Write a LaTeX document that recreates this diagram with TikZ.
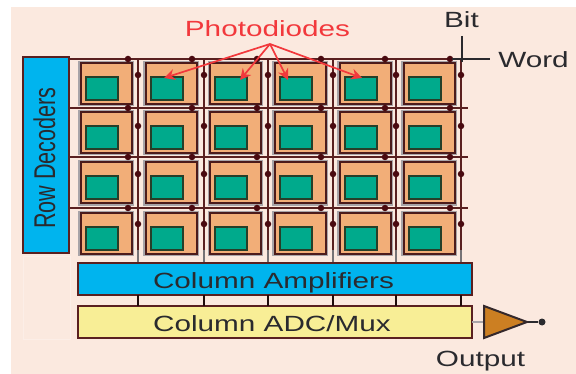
\documentclass[tikz,border=0pt]{standalone}
\usepackage{fontspec}
\setmainfont{Liberation Sans}
\usetikzlibrary{arrows.meta}
\definecolor{bgp}{HTML}{FBE9DF}
\definecolor{wire}{HTML}{5A2020}
\definecolor{dotc}{HTML}{4A0A10}
\definecolor{cellc}{HTML}{F2AE78}
\definecolor{greenc}{HTML}{00AA8C}
\definecolor{bluec}{HTML}{00B4EE}
\definecolor{yellowc}{HTML}{F8EE96}
\definecolor{redc}{HTML}{F2383C}
\definecolor{txt}{HTML}{2A2A2E}
\definecolor{ampc}{HTML}{CC7F22}
\definecolor{halo}{HTML}{A8A4A8}
\tikzset{
  px/.style={x=1pt,y=-1pt},
  cellhalo/.style={draw=halo,line width=1.2pt,minimum width=54pt,minimum height=44pt,inner sep=0pt,outer sep=0pt},
  cellbox/.style={draw=wire!85!black,line width=2pt,fill=cellc,minimum width=51pt,minimum height=41pt,inner sep=0pt,outer sep=0pt},
  diode/.style={draw=txt!90!green,line width=2pt,fill=greenc,minimum width=32pt,minimum height=23pt,inner sep=0pt,outer sep=0pt},
  blockb/.style={draw=wire,line width=2pt,fill=bluec,inner sep=0pt,outer sep=0pt},
  blocky/.style={draw=wire,line width=2pt,fill=yellowc,inner sep=0pt,outer sep=0pt},
  wireh/.style={draw=wire,line width=1.8pt},
  wirev/.style={draw=wire,line width=2.6pt},
  stub/.style={draw=black!65!wire,line width=2.6pt},
  lowstub/.style={draw=halo!70!black,line width=2.6pt},
  junc/.style={circle,fill=dotc,minimum size=6.5pt,inner sep=0pt,outer sep=0pt},
  arrowr/.style={draw=redc,line width=1.7pt,-{Stealth[length=11pt,width=11pt]}},
  lab/.style={inner sep=0pt,outer sep=0pt,text=txt,anchor=base,xscale=1.35,font=\fontsize{22}{22}\selectfont},
  leader/.style={draw=txt,line width=1.2pt},
}
\begin{document}
\begin{tikzpicture}[px]
\useasboundingbox (0,0) rectangle (576,374);
\fill[white] (0,0) rectangle (576,374);
\fill[bgp] (11,7) rectangle (576,374);
\draw[white!25!bgp,line width=.6pt] (23,256) rectangle (70,339);
% word lines
\coordinate (w1a) at (69,59); \coordinate (w1b) at (468,59);
\coordinate (w2a) at (69,108); \coordinate (w2b) at (468,108);
\coordinate (w3a) at (69,157); \coordinate (w3b) at (468,157);
\coordinate (w4a) at (69,208); \coordinate (w4b) at (468,208);
% cells
\foreach \c/\x in {1/106,2/171,3/235.5,4/300,5/365,6/429}{
  \foreach \r/\y in {1/83.5,2/132.5,3/183,4/233.5}{
    \node[cellhalo] (hal\c\r) at (\x,\y) {};
    \node[cellbox] (cell\c\r) at (\x,\y) {};
    \node[diode] (diode\c\r) at (\x-4.5,\y+5) {};
  }
}
% blocks
\node[blockb,minimum width=46pt,minimum height=196pt] (rowdec) at (46,155) {};
\node[blockb,minimum width=394pt,minimum height=32pt] (amp) at (275,279) {};
\node[blocky,minimum width=394pt,minimum height=32pt] (mux) at (275,322) {};
\node[inner sep=0pt,outer sep=0pt,text=txt,anchor=base,rotate=90,font=\fontsize{30}{30}\selectfont,xscale=.72] (rdl) at (55,158) {Row Decoders};
\node[lab] (ampl) at (273.5,289) {Column Amplifiers};
\node[lab] (muxl) at (272,331) {Column ADC/Mux};
% bit lines and junctions
\foreach \i/\x in {1/138,2/204,3/268,4/333,5/396,6/461}{
  \coordinate (btop\i) at (\x,59);
  \coordinate (bmid\i) at (\x,250);
  \coordinate (bbot\i) at (\x,262);
  \coordinate (ampb\i) at (\x,295);
  \coordinate (muxt\i) at (\x,306);
  \draw[wirev] (btop\i) -- (bmid\i);
  \draw[lowstub] (bmid\i) -- (bbot\i);
  \draw[stub] (ampb\i) -- (muxt\i);
  \foreach \y in {75,126,174,224}{\node[junc] at (\x,\y) {};}
}
\foreach \r in {1,2,3,4}{
  \draw[wireh] (w\r a) -- (w\r b);
}
\foreach \x in {128,192,257,321,385,450}{
  \foreach \y in {59,108,157,208}{\node[junc] at (\x,\y) {};}
}
% photodiodes label and arrows
\node[lab,text=redc] (pd) at (267.5,37) {Photodiodes};
\coordinate (apex) at (270,44);
\coordinate (t1) at (164,78);
\coordinate (t2) at (240,80);
\coordinate (t3) at (288,80);
\coordinate (t4) at (362,78);
\foreach \t in {t1,t2,t3,t4}{\draw[arrowr] (apex) -- (\t);}
% bit / word
\node[lab] (bit) at (461.5,28) {Bit};
\node[lab] (word) at (533.5,68) {Word};
\coordinate (bitend) at (462,36);
\coordinate (bitjoin) at (462,62);
\coordinate (wordend) at (490,59);
\coordinate (wordjoin) at (452,59);
\draw[leader] (bitend) -- (bitjoin);
\draw[leader] (wordjoin) -- (wordend);
% output
\coordinate (ta) at (484,306);
\coordinate (tb) at (484,338);
\coordinate (tc) at (527,322);
\coordinate (tw) at (484,322);
\node[circle,fill=txt,minimum size=7pt,inner sep=0pt] (outdot) at (542,322) {};
\draw[draw=halo,line width=1.2pt] (mux.east) -- (tw);
\draw[draw=txt,line width=1.2pt] (tc) -- (outdot);
\draw[draw=txt!80!wire,line width=2pt,fill=ampc,line join=miter] (ta) -- (tc) -- (tb) -- cycle;
\node[lab] (outl) at (480.5,366) {Output};
\end{tikzpicture}
\end{document}
